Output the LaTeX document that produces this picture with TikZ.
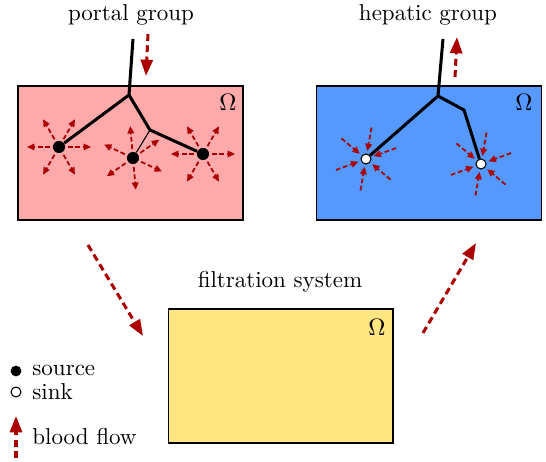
\documentclass[tikz,border=0pt]{standalone}
\usetikzlibrary{arrows.meta}
\definecolor{PortalFill}{HTML}{FFAAAA}
\definecolor{HepaticFill}{HTML}{5599FF}
\definecolor{FilterFill}{HTML}{FFE680}
\definecolor{FlowRed}{HTML}{AA0000}
\tikzset{
  figure/.style={x=0.0162cm,y=-0.0162cm,font=\fontsize{10.6pt}{13pt}\selectfont},
  region/.style={draw=black,line width=0.5pt,inner sep=0pt,minimum width=103.7pt,minimum height=61.8pt},
  vessel/.style={line width=1.4pt,line join=round},
  capillary/.style={line width=0.5pt},
  flow/.style={draw=FlowRed,line width=1.4pt,dash pattern=on 3.2pt off 2pt,-{Triangle[length=7.5pt,width=5.5pt]}},
  spray/.style={draw=FlowRed,line width=0.8pt,dash pattern=on 2.2pt off 1.2pt,-{Triangle[length=3.4pt,width=3pt]}},
  source/.style={circle,fill=black,inner sep=0pt,minimum size=5.6pt},
  sink/.style={circle,draw=black,line width=0.5pt,fill=white,inner sep=0pt,minimum size=4.6pt},
  legendtext/.style={anchor=west,inner sep=0pt},
}

\begin{document}
\begin{tikzpicture}[figure]
  \useasboundingbox (0,0) rectangle (546,462);

  % regions
  \node[region,fill=PortalFill] (portal) at (130.5,153) {};
  \node[region,fill=HepaticFill] (hepatic) at (429,153) {};
  \node[region,fill=FilterFill] (filter) at (280.5,376) {};
  \node (omegaP) at (228,102) {$\Omega$};
  \node (omegaH) at (524,102) {$\Omega$};
  \node (omegaF) at (377,327) {$\Omega$};

  \node (portalTitle) at (131,15) {portal group};
  \node (hepaticTitle) at (428,15) {hepatic group};
  \node (filterTitle) at (280,282) {filtration system};

  % portal vessel tree
  \coordinate (pIn) at (133,39);
  \coordinate (pJoin) at (129,95);
  \coordinate (pSplit) at (150,130);
  \node[source] (src1) at (59,147) {};
  \node[source] (src2) at (133,158) {};
  \node[source] (src3) at (203,154) {};
  \draw[vessel] (pIn) -- (pJoin) -- (src1);
  \draw[vessel] (pJoin) -- (pSplit) -- (src3);
  \draw[capillary] (pSplit) -- (src2);
  \foreach \a in {0,60,...,300} {
    \draw[spray] ([shift={(\a:9)}]src1.center) -- ([shift={(\a:32)}]src1.center);
    \draw[spray] ([shift={(\a+25:9)}]src2.center) -- ([shift={(\a+25:32)}]src2.center);
    \draw[spray] ([shift={(\a:9)}]src3.center) -- ([shift={(\a:32)}]src3.center);
  }

  % hepatic vessel tree
  \coordinate (hOut) at (443,39);
  \coordinate (hJoin) at (438,96);
  \coordinate (hBend) at (464,110);
  \node[sink] (snk1) at (366,159) {};
  \node[sink] (snk2) at (481,164) {};
  \draw[vessel] (hOut) -- (hJoin) -- (snk1);
  \draw[vessel] (hJoin) -- (hBend) -- (snk2);
  \foreach \a in {40,100,...,340} {
    \draw[spray] ([shift={(\a:32)}]snk1.center) -- ([shift={(\a:8)}]snk1.center);
    \draw[spray] ([shift={(\a:32)}]snk2.center) -- ([shift={(\a:8)}]snk2.center);
  }

  % blood flow
  \coordinate (inTail) at (148,34);
  \coordinate (inHead) at (146,76);
  \coordinate (outTail) at (455,77);
  \coordinate (outHead) at (457,37);
  \coordinate (downTail) at (88,245);
  \coordinate (downHead) at (143,336);
  \coordinate (upTail) at (423,333);
  \coordinate (upHead) at (476,243);
  \draw[flow] (inTail) -- (inHead);
  \draw[flow] (outTail) -- (outHead);
  \draw[flow] (downTail) -- (downHead);
  \draw[flow] (upTail) -- (upHead);

  % legend
  \node[source,minimum size=5pt] (keySource) at (16,371) {};
  \node[sink,minimum size=4.6pt] (keySink) at (16,392) {};
  \coordinate (keyTail) at (16,458);
  \coordinate (keyHead) at (16,416);
  \draw[flow] (keyTail) -- (keyHead);
  \node[legendtext] (keySourceText) at (32,370) {source};
  \node[legendtext] (keySinkText) at (32,392) {sink};
  \node[legendtext] (keyFlowText) at (32,437) {blood flow};
\end{tikzpicture}
\end{document}
